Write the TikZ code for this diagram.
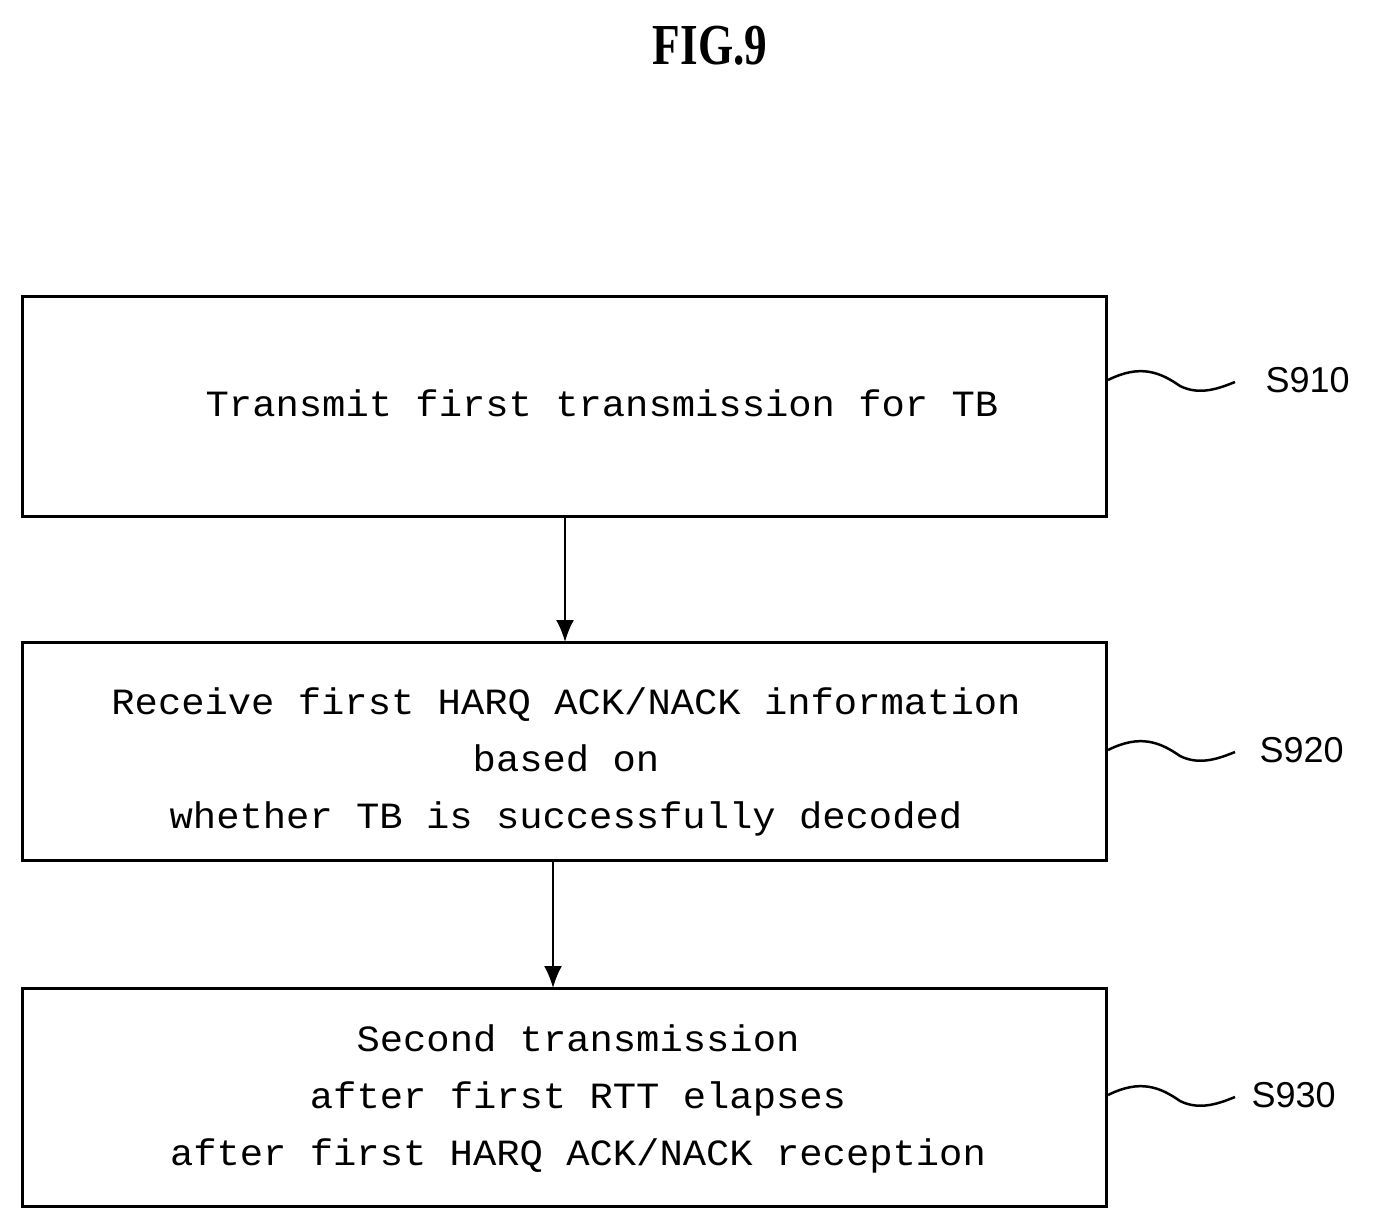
\documentclass[tikz,border=0pt]{standalone}
\usepackage{fontspec}
\setmainfont{Liberation Mono}
\newfontfamily\lab{Liberation Sans}
\newfontfamily\ttl{Liberation Serif}
\begin{document}
\begin{tikzpicture}[x=1pt,y=-1pt,
  box/.style={draw,line width=3pt},
  txt/.style={font=\fontsize{37}{57}\selectfont,align=center,xscale=1.05},
  arr/.style={line width=2pt,-{Latex[length=22pt,width=18pt]}},
  wave/.style={line width=2.5pt},
  lbl/.style={font=\lab\fontsize{36}{40}\selectfont,anchor=west}]
\usetikzlibrary{arrows.meta}
\useasboundingbox (0,0) rectangle (1378,1230);
\node[font=\ttl\bfseries\fontsize{58}{60}\selectfont,xscale=0.78] (title) at (710,46) {FIG.9};
\draw[box] (22,297) rectangle (1106,516);
\draw[box] (22,642) rectangle (1106,860);
\draw[box] (22,988) rectangle (1106,1206);
\node[txt] (b1) at (602,403) {Transmit first transmission for TB};
\node[txt] (b2) at (566,762) {Receive first HARQ ACK/NACK information\\based on\\whether TB is successfully decoded};
\node[txt] (b3) at (578,1099) {Second transmission\\after first RTT elapses\\after first HARQ ACK/NACK reception};
\coordinate (a1) at (565,516); \coordinate (a1e) at (565,642);
\coordinate (a2) at (553,860); \coordinate (a2e) at (553,988);
\draw[arr] (a1) -- (a1e);
\draw[arr] (a2) -- (a2e);
\foreach \y/\t/\lx in {380/S910/1262,750/S920/1256,1095/S930/1248}{
  \draw[wave] (1108,\y) .. controls (1140,\y-16) and (1160,\y-8) .. (1180,\y+6) .. controls (1200,\y+16) and (1220,\y+8) .. (1235,\y+2);
  \node[lbl] at (\lx,\y) {\t};
}
\end{tikzpicture}
\end{document}
